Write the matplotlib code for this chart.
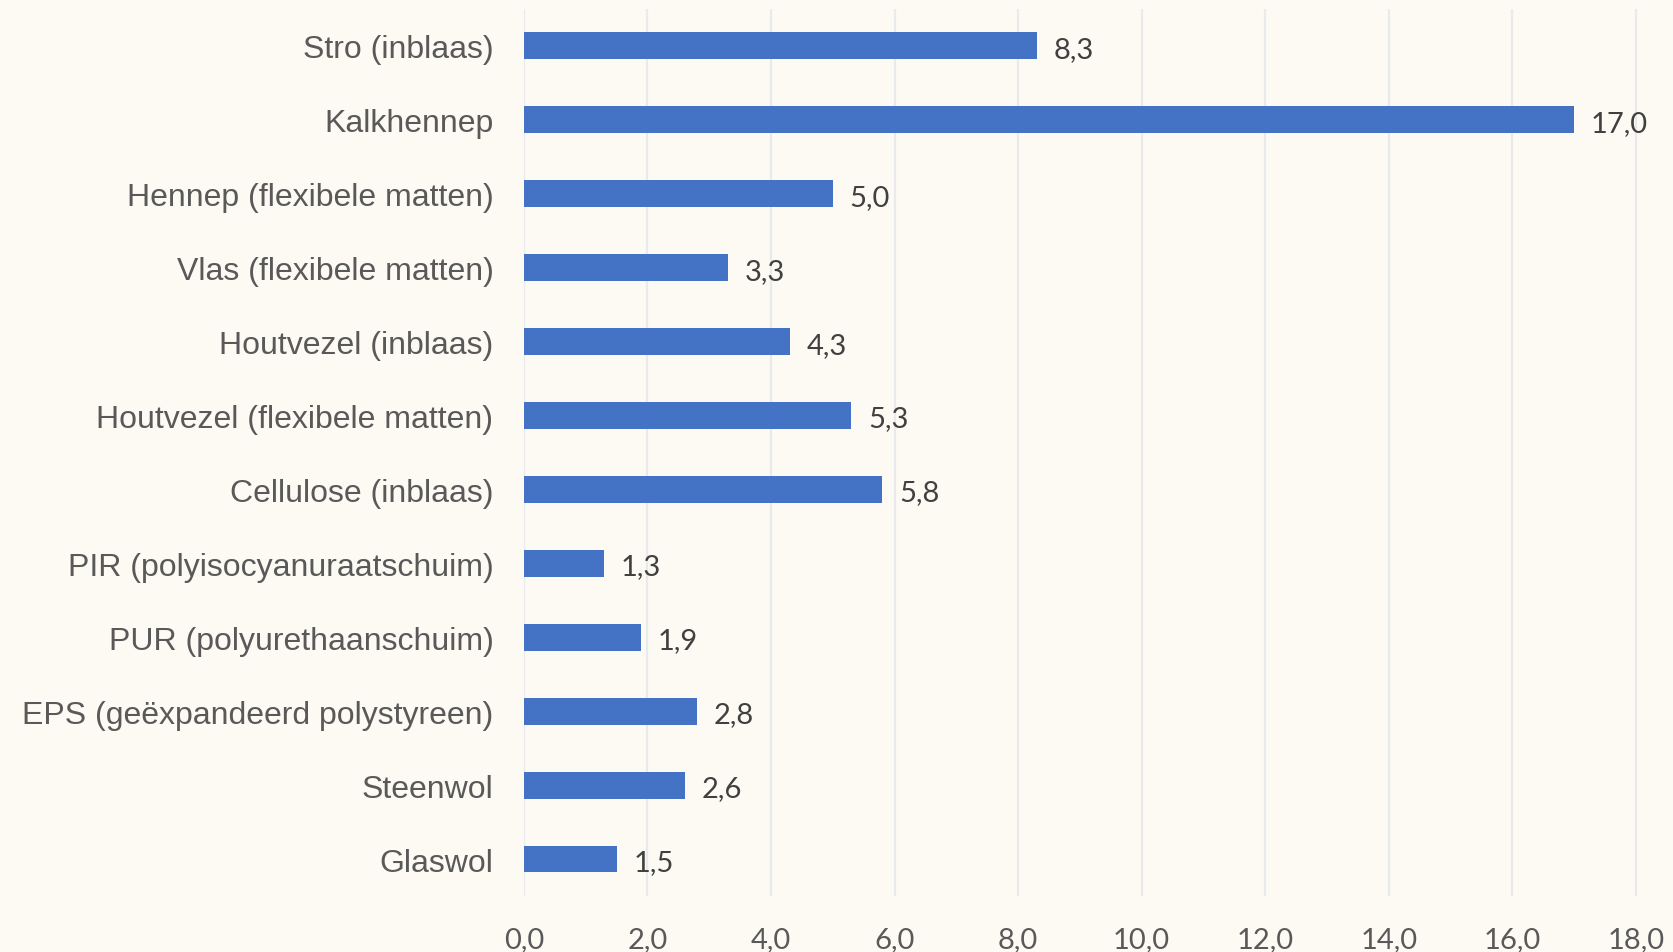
import matplotlib
matplotlib.use("Agg")
import matplotlib.pyplot as plt
from matplotlib.ticker import FuncFormatter

categories = [
    "Stro (inblaas)",
    "Kalkhennep",
    "Hennep (flexibele matten)",
    "Vlas (flexibele matten)",
    "Houtvezel (inblaas)",
    "Houtvezel (flexibele matten)",
    "Cellulose (inblaas)",
    "PIR (polyisocyanuraatschuim)",
    "PUR (polyurethaanschuim)",
    "EPS (geëxpandeerd polystyreen)",
    "Steenwol",
    "Glaswol",
]
values = [8.3, 17.0, 5.0, 3.3, 4.3, 5.3, 5.8, 1.3, 1.9, 2.8, 2.6, 1.5]
xticks = [0, 2, 4, 6, 8, 10, 12, 14, 16, 18]

bg = "#FCFAF2"
bar_color = "#4472C4"

def comma(v, pos=None):
    return ("%.1f" % v).replace(".", ",")

fig = plt.figure(figsize=(16.74, 9.53), dpi=100, facecolor=bg)
ax = fig.add_axes([0.313, 0.0588, 0.666, 0.9307])
ax.set_facecolor(bg)

ypos = list(range(len(categories)))
ax.barh(ypos, values, height=0.365, color=bar_color, zorder=3)
for y, v in zip(ypos, values):
    ax.text(v + 0.27, y + 0.04, comma(v), va="center", ha="left",
            fontsize=21, family="Lato", color="#404040")

ax.set_ylim(len(categories) - 0.5, -0.5)
ax.set_yticks(ypos)
ax.set_yticklabels(categories, family="Liberation Sans", fontsize=23, color="#595959")
ax.set_xlim(0, 18.05)
ax.set_xticks(xticks)
ax.xaxis.set_major_formatter(FuncFormatter(comma))
for lab in ax.get_xticklabels():
    lab.set_family("Lato")
    lab.set_fontsize(21)
    lab.set_color("#595959")

ax.grid(axis="x", color="#E9EAED", linewidth=1.6, zorder=0)
ax.tick_params(axis="y", length=0, pad=22)
ax.tick_params(axis="x", length=0, pad=22)
for s in ax.spines.values():
    s.set_visible(False)

fig.savefig("out.png", dpi=100, facecolor=bg)
